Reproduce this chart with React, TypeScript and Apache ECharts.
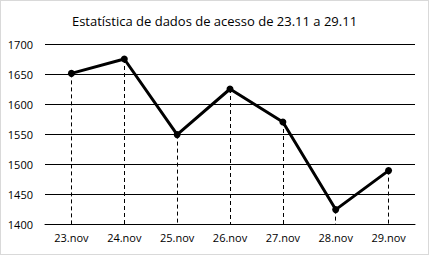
import React, { useEffect, useRef } from "react";
import * as echarts from "echarts";

const categories = ["23.nov", "24.nov", "25.nov", "26.nov", "27.nov", "28.nov", "29.nov"];
const values = [1651, 1675, 1549, 1625, 1570, 1424, 1489];
const titleText = "Estatística de dados de acesso de 23.11 a 29.11";
const yMin = 1400;
const yMax = 1700;
const yStep = 50;

export default function App() {
  const ref = useRef<HTMLDivElement>(null);
  useEffect(() => {
    document.body.style.margin = "0";
    const chart = echarts.init(ref.current!, null, { renderer: "svg" });
    const font = "'Open Sans', 'Noto Sans', sans-serif";
    chart.setOption({
      animation: false,
      backgroundColor: "#fff",
      title: {
        text: titleText,
        left: "center",
        top: 8,
        textStyle: { fontFamily: font, fontSize: 13, fontWeight: "normal", color: "#000" },
      },
      grid: { left: 44, right: 13, top: 43, bottom: 30 },
      xAxis: {
        type: "category",
        data: categories,
        boundaryGap: true,
        axisLine: { show: true, lineStyle: { color: "#000", width: 1 } },
        axisTick: { show: false },
        axisLabel: { color: "#000", fontFamily: font, fontSize: 11, margin: 8 },
      },
      yAxis: {
        type: "value",
        min: yMin,
        max: yMax,
        interval: yStep,
        axisLine: { show: false },
        axisTick: { show: false },
        axisLabel: {
          color: "#000",
          fontFamily: font,
          fontSize: 11,
          margin: 12,
          formatter: (v: number) => String(v),
        },
        splitLine: { lineStyle: { color: "#000", width: 1 } },
      },
      series: [
        {
          type: "line",
          data: values,
          symbol: "circle",
          symbolSize: 7,
          itemStyle: { color: "#000" },
          lineStyle: { color: "#000", width: 3 },
          markLine: {
            silent: true,
            symbol: "none",
            label: { show: false },
            lineStyle: { color: "#000", width: 1, type: [4, 3] },
            data: values.map((v, i) => [
              { coord: [i, v] },
              { coord: [i, yMin] },
            ]),
          },
          z: 3,
        },
      ],
    });
    return () => chart.dispose();
  }, []);
  return (
    <div
      ref={ref}
      style={{
        position: "absolute",
        left: 0,
        top: 0,
        width: 429,
        height: 255,
        boxSizing: "border-box",
        border: "1px solid #d9d9d9",
      }}
    />
  );
}
